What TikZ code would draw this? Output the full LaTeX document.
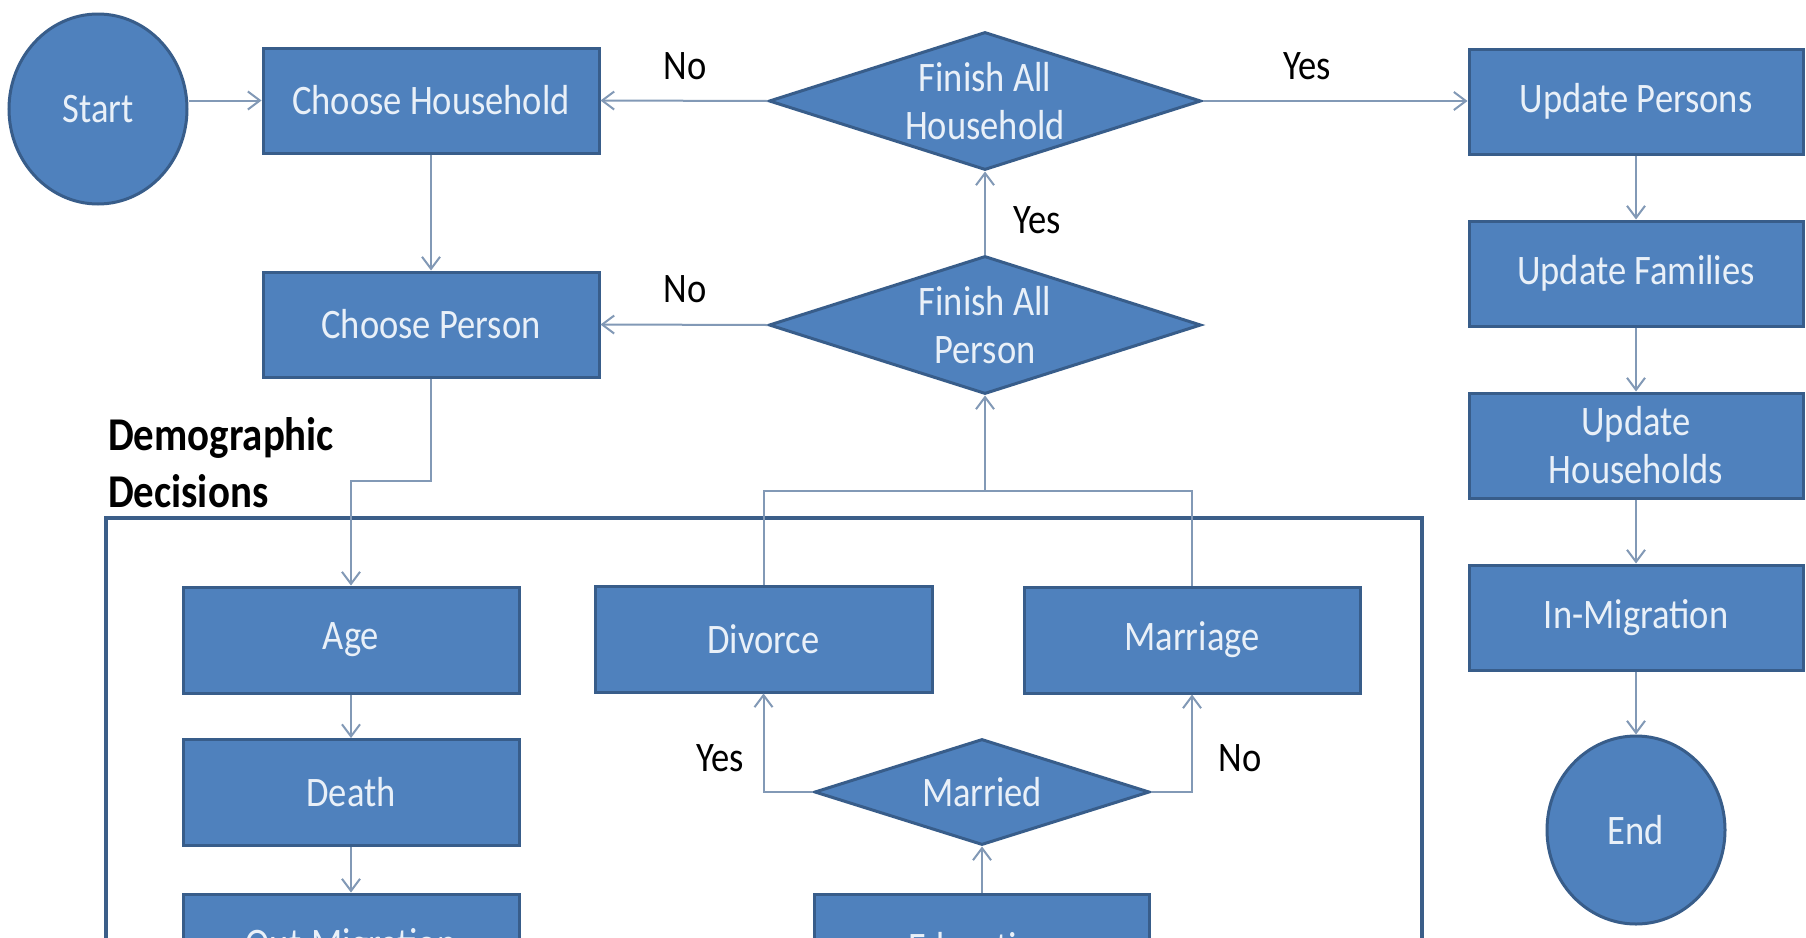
\documentclass[tikz,border=0pt]{standalone}
\usepackage{fontspec}
\setmainfont{Carlito}
\newfontfamily\flowfont[FakeStretch=0.87]{Carlito}
\usetikzlibrary{shapes.geometric,arrows.meta}
\definecolor{boxfill}{HTML}{4F81BD}
\definecolor{boxline}{HTML}{385D8A}
\definecolor{boxtext}{HTML}{E9F0F8}
\definecolor{wire}{HTML}{8299B6}
\definecolor{framecol}{HTML}{3B5E89}

\begin{document}
\begin{tikzpicture}[x=1pt,y=-1pt,
  boxfont/.style={font=\flowfont\fontsize{42}{48}\selectfont},
  shapebase/.style={fill=boxfill, draw=boxline, line width=3pt, text=boxtext,
    boxfont, align=center, inner sep=0pt},
  procbox/.style={shapebase, rectangle, minimum width=336pt, minimum height=105pt},
  decision/.style={shapebase, diamond},
  terminal/.style={shapebase, ellipse, minimum width=178pt, minimum height=190pt},
  intext/.style={text=boxtext, boxfont, align=center},
  tag/.style={boxfont, text=black, inner sep=0pt},
  flow/.style={draw=wire, line width=2pt, -{Straight Barb[length=12pt,width=18pt,line width=2pt]}},
  wireline/.style={draw=wire, line width=2pt}
]
\useasboundingbox (0,0) rectangle (1806,937);
\clip (0,0) rectangle (1806,937);
\fill[white] (0,0) rectangle (1806,937);

% main loop
\node[terminal] (start) at (98,109) {Start};
\node[procbox] (ch) at (431,100.5) {Choose Household};
\node[procbox] (cp) at (431,324.5) {Choose Person};
\node[decision, minimum width=432pt, minimum height=138pt,
      label={[intext]center:Finish All\\Household}] (fah) at (985,101) {};
\node[decision, minimum width=432pt, minimum height=138pt,
      label={[intext]center:Finish All\\Person}] (fap) at (985,325) {};

% update column
\node[procbox, minimum width=334pt] (up) at (1636,101.5) {Update Persons};
\node[procbox, minimum width=334pt] (uf) at (1636,273.5) {Update Families};
\node[procbox, minimum width=334pt] (uh) at (1636,445.5) {Update\\Households};
\node[procbox, minimum width=334pt] (im) at (1636,617.5) {In-Migration};
\node[terminal, minimum height=188pt] (end) at (1636,830) {End};

% demographic decisions block
\node[anchor=west, align=left, inner sep=0pt,
      font=\flowfont\bfseries\fontsize{47}{57}\selectfont] (dd) at (108,463)
      {Demographic\\Decisions};
\draw[draw=framecol, line width=4pt] (106,980) -- (106,518) -- (1422,518) -- (1422,980);

\node[procbox, minimum height=106pt] (age) at (351,640) {Age};
\node[procbox, minimum height=106pt] (death) at (351,792.5) {Death};
\node[procbox, minimum height=106pt] (outm) at (351,947) {Out-Migration};
\node[procbox, minimum width=337pt, minimum height=106pt] (div) at (763.5,639) {Divorce};
\node[procbox, minimum height=106pt] (mar) at (1192,640) {Marriage};
\node[decision, minimum width=335pt, minimum height=106pt,
      label={[intext]center:Married}] (md) at (982,792) {};
\node[procbox, minimum width=335pt, minimum height=106pt] (edu) at (982,947) {Education};

\coordinate (cpturn) at (351,481);
\coordinate (join) at (985,491);

% connectors
\draw[flow] (start.east |- ch.west) -- (ch.west);
\draw[flow] (fah.west) -- (ch.east);
\draw[flow] (fah.east) -- (up.west |- fah.east);
\draw[flow] (ch.south) -- (cp.north);
\draw[flow] (fap.west) -- (cp.east);
\draw[flow] (fap.north) -- (fah.south);
\draw[flow] (cp.south) |- (cpturn) -- (age.north);
\draw[wireline] (div.north) |- (join) -| (mar.north);
\draw[flow] (join) -- (fap.south);
\draw[flow] (md.west) -| (div.south);
\draw[flow] (md.east) -| (mar.south);
\draw[flow] (edu.north) -- (md.south);
\draw[flow] (age.south) -- (death.north);
\draw[flow] (death.south) -- (outm.north);
\draw[flow] (up.south) -- (uf.north);
\draw[flow] (uf.south) -- (uh.north);
\draw[flow] (uh.south) -- (im.north);
\draw[flow] (im.south) -- (end.north);

% branch labels
\node[tag] (no1) at (685,66) {No};
\node[tag] (yes1) at (1307,66) {Yes};
\node[tag] (no2) at (685,289) {No};
\node[tag] (yes2) at (1037,220) {Yes};
\node[tag] (yes3) at (720,758) {Yes};
\node[tag] (no3) at (1240,758) {No};
\end{tikzpicture}
\end{document}
